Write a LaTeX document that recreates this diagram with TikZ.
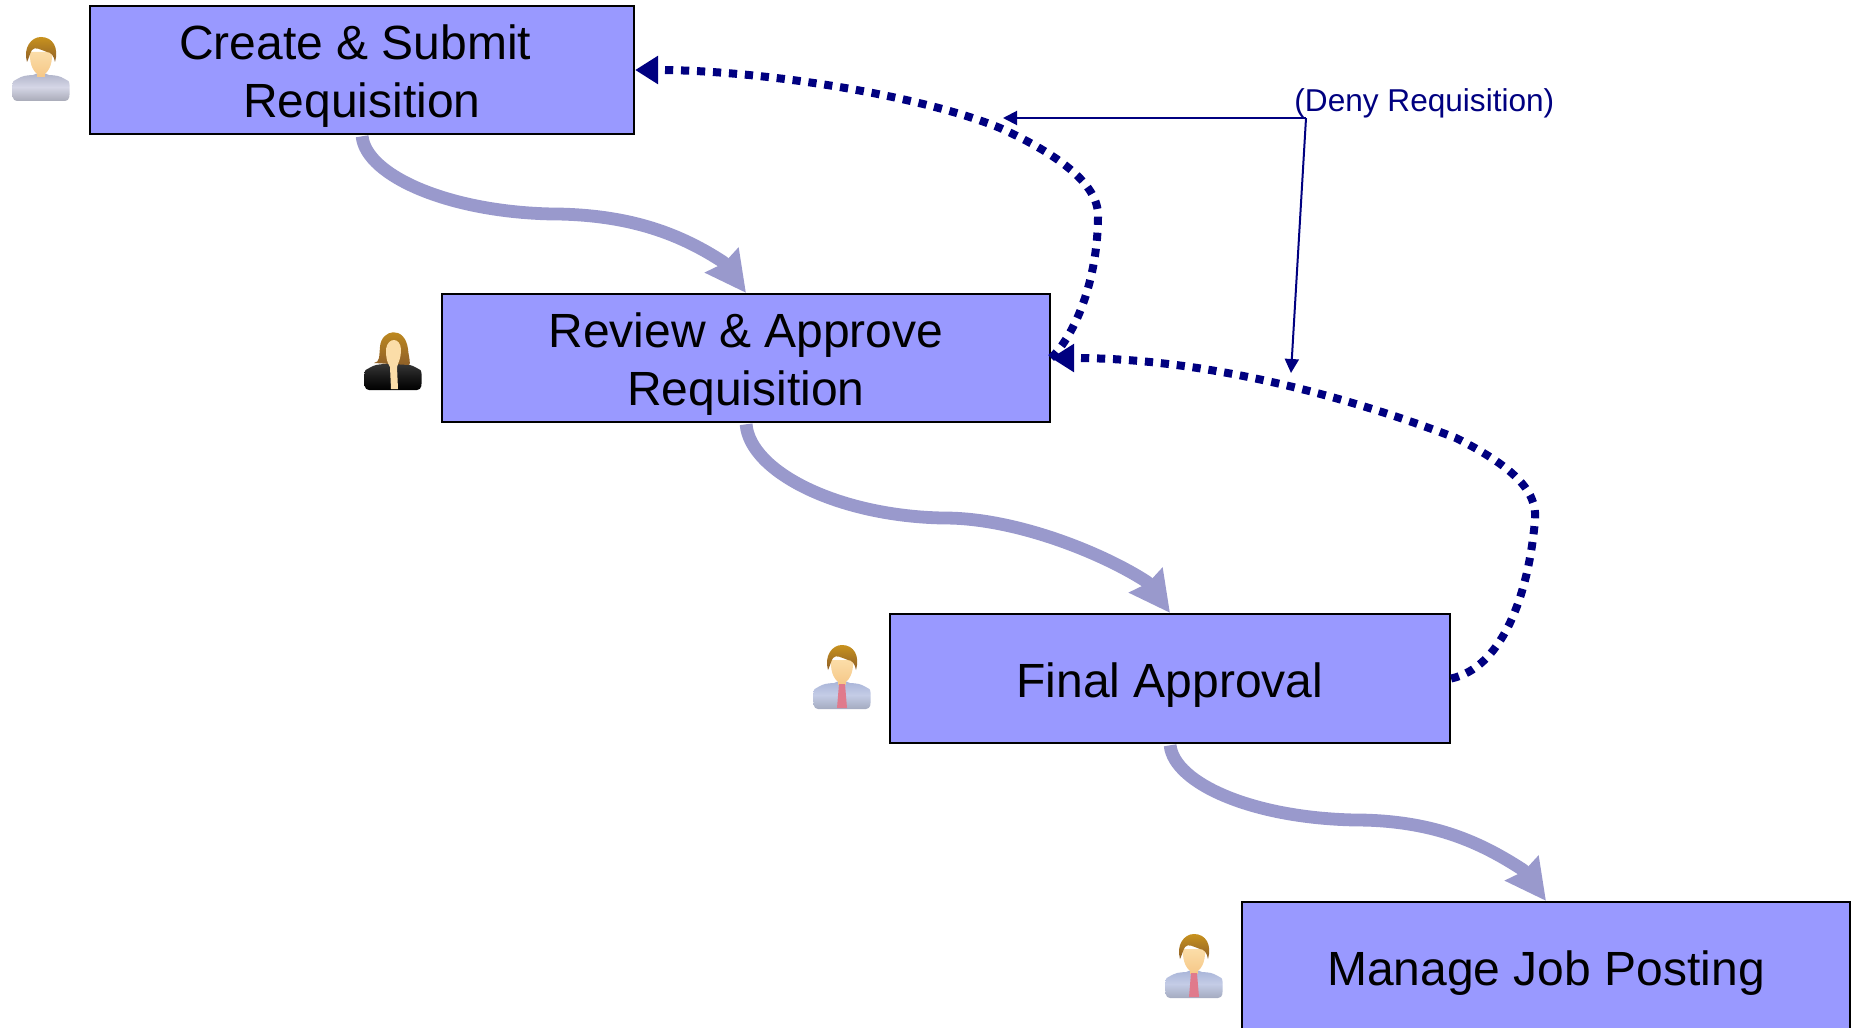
\documentclass[tikz,border=0pt]{standalone}
\usepackage{fontspec}
\setmainfont{Liberation Sans}
\usetikzlibrary{arrows.meta,calc}
\definecolor{boxfill}{HTML}{9999FF}
\definecolor{flowcol}{HTML}{9999CC}
\definecolor{denycol}{HTML}{000080}
\definecolor{hairtop}{HTML}{C8921E}
\definecolor{hairlow}{HTML}{8E5F28}
\definecolor{skin}{HTML}{FBDDA8}
\definecolor{skinlow}{HTML}{F6C98A}
\definecolor{greytop}{HTML}{AEB2C8}
\definecolor{greymid}{HTML}{D5D6E6}
\definecolor{greylow}{HTML}{A9ABB8}
\definecolor{blacktop}{HTML}{3A3A3A}
\definecolor{blackmid}{HTML}{1A1A1A}
\definecolor{blacklow}{HTML}{000000}
\definecolor{bluetop}{HTML}{A8B4D8}
\definecolor{bluemid}{HTML}{C4CCE6}
\definecolor{bluelow}{HTML}{A4ABC0}
\definecolor{tiecol}{HTML}{E07A8C}
\newcommand{\lowered}[1]{\raisebox{-9.25pt}[0pt][0pt]{#1}}
\tikzset{
  stepbox/.style={draw=black,line width=1.1pt,fill=boxfill,inner sep=0pt,align=center,
    font=\fontsize{24}{29}\selectfont,text=black},
  oneline/.style={execute at begin node={\rule{0pt}{24pt}\ignorespaces}},
  flow/.style={draw=flowcol,line width=6.4pt,line cap=butt,line join=round,shorten <=0.6pt,
    -{Stealth[length=20pt,width=20pt,inset=1.5pt,sep=0pt]}},
  deny/.style={draw=denycol,line width=4pt,dash pattern=on 4.1pt off 3.9pt,
    -{Stealth[length=11.5pt,width=13.5pt,inset=0pt,color=denycol,sep=0pt]}},
  note/.style={draw=denycol,line width=1pt,-{Stealth[length=7pt,width=7pt,inset=0pt]}},
  notelabel/.style={text=denycol,inner sep=0pt,font=\fontsize{15.8}{18}\selectfont},
}
\newcommand{\flowline}[4]{%
  \draw[flow] (#1.south) .. controls ($(#1.south)+(4,#4*0.52)$) and ($(#1.south)+(#3-110,#4)$)
    .. ($(#1.south)+(#3,#4)$) .. controls ($(#1.south)+(#3+70,#4+2)$) and ($(#2.north)+(-66,-59)$)
    .. ($(#2.north)+(-23,-31)$) -- (#2.north);}
% icon: centre x, centre y, body colours (top, middle, bottom), head drawing
\newcommand{\bodyicon}[6]{%
  \begin{scope}[shift={(#1,#2)}]
    \shade[top color=#3,bottom color=#5,middle color=#4,rounded corners=2pt]
      (-28,31) .. controls (-29,20) and (-29,12) .. (-24,9)
      .. controls (-16,5) and (-8,5) .. (-5,3) -- (5,3)
      .. controls (8,5) and (16,5) .. (24,9)
      .. controls (29,12) and (29,20) .. (28,31) -- cycle;
    #6
  \end{scope}}
\newcommand{\malehead}{%
  \fill[skinlow] (-4,-3) rectangle (4,7);
  \shade[top color=skin,bottom color=skinlow] (-11,-18) .. controls (-12,-4) and (-6,5) .. (0,5)
     .. controls (6,5) and (12,-4) .. (11,-18) -- cycle;
  \shade[top color=hairtop,bottom color=hairlow] (-14,-8) .. controls (-18,-22) and (-10,-33) .. (0,-33)
     .. controls (12,-33) and (18,-22) .. (14,-8) .. controls (13,-14) and (10,-18) .. (6,-18)
     .. controls (0,-20) and (-6,-24) .. (-9,-20) .. controls (-11,-17) and (-12,-12) .. (-14,-8) -- cycle;
}
\newcommand{\malehtie}{%
  \malehead
  \fill[tiecol] (-3,6) -- (3,6) -- (5,30) -- (-5,30) -- cycle;
}
\begin{document}
\begin{tikzpicture}[x=0.5pt,y=-0.5pt]
\useasboundingbox (0,0) rectangle (1856,1027);
\begin{scope}
\clip (0,0) rectangle (1856,1027);

\node[stepbox,minimum width=272pt,minimum height=64pt] (create) at (362,70)
  {\lowered{Create \& Submit\kern6.7pt}\\\lowered{Requisition}};
\node[stepbox,minimum width=304pt,minimum height=64pt] (review) at (746,358)
  {\lowered{Review \& Approve}\\\lowered{Requisition}};
\node[stepbox,oneline,minimum width=280pt,minimum height=64.5pt] (final) at (1170,678.5)
  {Final Approval};
\node[stepbox,oneline,minimum width=304pt,minimum height=64.5pt] (manage) at (1546,966.5)
  {Manage Job Posting};

\flowline{create}{review}{200}{79}
\flowline{review}{final}{205}{95}
\flowline{final}{manage}{195}{76}

\coordinate (lowerbend) at (1535,520);
\coordinate (lowerarc) at (1456,438);
\coordinate (upperbend) at (1098,215);
\coordinate (upperarc) at (1000,128);
\draw[deny] (final.east) .. controls (1500,668) and (1528,600) .. (lowerbend)
   .. controls (1538,490) and (1510,465) .. (lowerarc)
   .. controls (1370,405) and (1220,358) .. (review.east);
\draw[deny] (review.east) .. controls (1075,335) and (1098,280) .. (upperbend)
   .. controls (1098,185) and (1060,155) .. (upperarc)
   .. controls (920,95) and (760,70) .. (create.east);

\node[notelabel,anchor=west] (denylabel) at (1294,103) {(Deny Requisition)};
\coordinate (notehub) at (1306,118);
\coordinate (noteupper) at (1003,118);
\coordinate (notelower) at (1291,373);
\draw[note] (notehub) -- (noteupper);
\draw[note] (notehub) -- (notelower);

\bodyicon{41}{70}{greytop}{greymid}{greylow}{\malehead}
\bodyicon{393}{359}{blacktop}{blackmid}{blacklow}{%
  \shade[top color=hairtop,bottom color=hairlow] (-19,4) .. controls (-13,3) and (-14,-2) .. (-13,-12)
    .. controls (-12,-30) and (12,-34) .. (15,-10) .. controls (16,0) and (18,4) .. (16,6) -- cycle;
  \fill[skin] (-7,-10) .. controls (-5,-22) and (7,-22) .. (8,-10)
    .. controls (8,0) and (5,4) .. (4,8) -- (5,30) -- (-2,30) -- (-3,8) .. controls (-6,3) and (-7,0) .. (-7,-10) -- cycle;
}
\bodyicon{842}{678}{bluetop}{bluemid}{bluelow}{\malehtie}
\bodyicon{1194}{967}{bluetop}{bluemid}{bluelow}{\malehtie}
\end{scope}
\end{tikzpicture}
\end{document}
